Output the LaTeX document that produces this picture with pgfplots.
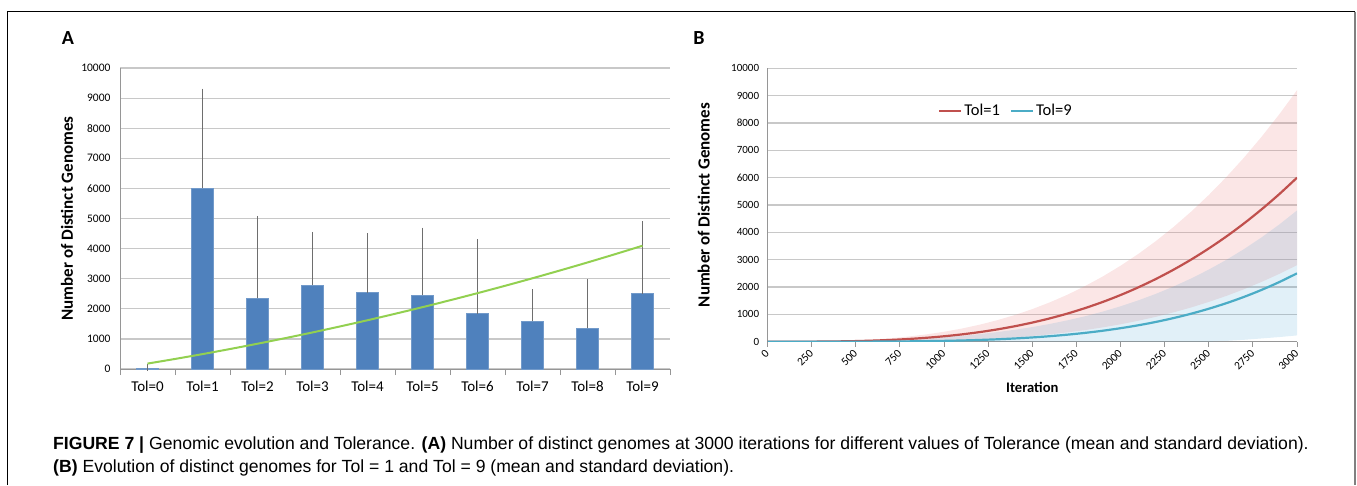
\documentclass[border=0pt]{standalone}
\usepackage{fontspec}
\setmainfont{Carlito}
\newfontfamily\capfont{Liberation Sans}
\usepackage{pgfplots}
\usepackage{pgfplotstable}
\pgfplotsset{compat=1.18}
\definecolor{barblue}{RGB}{79,129,189}
\definecolor{lred}{RGB}{192,80,77}
\definecolor{lblue}{RGB}{75,172,198}
\definecolor{tgreen}{RGB}{146,208,80}
\definecolor{gridgray}{RGB}{200,200,200}
\definecolor{axgray}{RGB}{150,150,150}
\definecolor{errgray}{RGB}{110,110,110}

\pgfplotstableread{
x    r     b
0    0     0
100  0.2   0
200  1.4   0.05
300  4.8   0.25
400  11.6  0.8
500  23    1.9
600  41    4
700  66    7.4
800  100   12.6
900  144   20
1000 199   31
1100 267   45
1200 350   64
1300 449   88
1400 565   119
1500 700   156
1600 855   202
1700 1031  258
1800 1232  324
1900 1456  402
2000 1707  494
2100 1986  600
2200 2294  723
2300 2633  864
2400 3004  1024
2500 3410  1206
2600 3850  1410
2700 4328  1640
2800 4845  1897
2900 5401  2183
3000 6000  2500
}\evol

\begin{document}
\begin{tikzpicture}
\useasboundingbox (0pt,0pt) rectangle (1357pt,-485pt);
\draw[black, line width=1pt] (7pt,-485pt) -- (7pt,-11.5pt) -- (1355pt,-11.5pt);
\draw[gray, line width=1.6pt] (1355pt,-11.5pt) -- (1355pt,-485pt);

\node[font=\bfseries\fontsize{20}{24}\selectfont] at (68pt,-38pt) {A};
\node[font=\bfseries\fontsize{20}{24}\selectfont] at (699pt,-38pt) {B};

% ---------------- Panel A ----------------
\begin{axis}[
  at={(120pt,-369pt)}, anchor=south west,
  scale only axis, width=550pt, height=301pt,
  xmin=-0.5, xmax=9.5, ymin=0, ymax=10000,
  axis x line*=bottom, axis y line*=left,
  axis line style={draw=axgray, line width=1pt, -},
  ymajorgrids, grid style={gridgray, line width=1.2pt},
  ytick={0,1000,...,10000},
  scaled y ticks=false,
  ytick style={draw=none},
  xtick={-0.5,0.5,...,9.5},
  x tick label as interval,
  xticklabels={{Tol=0},{Tol=1},{Tol=2},{Tol=3},{Tol=4},{Tol=5},{Tol=6},{Tol=7},{Tol=8},{Tol=9}},
  tick align=outside, major tick length=6pt,
  xtick style={draw=axgray, line width=1pt},
  x tick label style={font=\fontsize{15}{18}\selectfont, yshift=-3pt},
  y tick label style={font=\fontsize{11.5}{13}\selectfont},
  /pgf/number format/assume math mode=true,
  /pgf/number format/set thousands separator={},
  every axis y label/.style={at={(axis description cs:0,0.5)}, xshift=-53pt, rotate=90, anchor=center},
  ylabel={\bfseries\fontsize{17}{20}\selectfont Number of Distinct Genomes},
  clip=false,
]
\addplot[ybar, bar width=0.4, fill=barblue, draw=barblue!80!white, line width=0.5pt,
  error bars/.cd, y dir=plus, y explicit,
  error bar style={errgray, line width=1pt},
  error mark=-,
  error mark options={errgray, line width=1.2pt, mark size=3.5pt}]
  coordinates {
  (0,30) +- (0,15)
  (1,6000) +- (0,3200)
  (2,2350) +- (0,2620)
  (3,2780) +- (0,1660)
  (4,2540) +- (0,1860)
  (5,2450) +- (0,2130)
  (6,1840) +- (0,2350)
  (7,1585) +- (0,955)
  (8,1350) +- (0,1510)
  (9,2505) +- (0,2280)
  };
\addplot[tgreen, line width=2pt, smooth, no marks] coordinates {
  (0,180) (0.5,334) (1,495) (1.5,664) (2,840) (2.5,1024) (3,1215) (3.5,1414)
  (4,1620) (4.5,1834) (5,2055) (5.5,2284) (6,2520) (6.5,2764) (7,3015)
  (7.5,3274) (8,3540) (8.5,3814) (9,4095)
  };
\end{axis}

% ---------------- Panel B ----------------
\begin{axis}[
  at={(767.6pt,-341.7pt)}, anchor=south west,
  scale only axis, width=529.4pt, height=273.4pt,
  xmin=0, xmax=3000, ymin=0, ymax=10000,
  axis x line*=bottom, axis y line*=left,
  axis line style={draw=axgray, line width=1pt, -},
  ymajorgrids, grid style={gridgray, line width=1.2pt},
  ytick={0,1000,...,10000},
  scaled y ticks=false, scaled x ticks=false,
  ytick style={draw=none},
  xtick={0,250,...,3000},
  tick align=outside, major tick length=5pt,
  xtick style={draw=axgray, line width=1pt},
  x tick label style={font=\fontsize{11.5}{13}\selectfont, rotate=45, anchor=east, yshift=-3pt},
  y tick label style={font=\fontsize{11}{13}\selectfont},
  /pgf/number format/assume math mode=true,
  /pgf/number format/set thousands separator={},
  every axis y label/.style={at={(axis description cs:0,0.5)}, xshift=-64pt, rotate=90, anchor=center},
  ylabel={\bfseries\fontsize{17}{20}\selectfont Number of Distinct Genomes},
  every axis x label/.style={at={(axis description cs:0.5,0)}, yshift=-46pt, anchor=center},
  xlabel={\bfseries\fontsize{14.6}{17}\selectfont Iteration},
  legend style={at={(0.316,0.844)}, anchor=west, draw=none, fill=none,
    font=\fontsize{16.5}{19}\selectfont},
  legend columns=2,
  /tikz/every even column/.append style={column sep=8pt},
  legend image code/.code={\draw[#1, line width=2.2pt] (0pt,0pt) -- (22pt,0pt);},
]
% Tol=1 band (mean +/- sd): upper edge, then lower edge back
\addplot[fill={rgb,255:red,236;green,140;blue,140}, fill opacity=0.22, draw=none, forget plot] coordinates {
  (0,0) (100,0.5) (200,3.5) (300,11) (400,26) (500,48) (600,82) (700,129) (800,190)
  (900,268) (1000,364) (1100,480) (1200,620) (1300,784) (1400,974) (1500,1192)
  (1600,1441) (1700,1721) (1800,2038) (1900,2388) (2000,2778) (2100,3207)
  (2200,3679) (2300,4195) (2400,4756) (2500,5366) (2600,6025) (2700,6736)
  (2800,7501) (2900,8321) (3000,9200)
  (3000,2800) (2900,2481) (2800,2189) (2700,1920) (2600,1675) (2500,1454)
  (2400,1252) (2300,1071) (2200,909) (2100,765) (2000,636) (1900,524) (1800,426)
  (1700,341) (1600,269) (1500,208) (1400,156) (1300,114) (1200,80) (1100,54)
  (1000,34) (900,20) (800,10) (700,3) (600,0) (0,0)
  };
% Tol=9 band
\addplot[fill={rgb,255:red,70;green,160;blue,210}, fill opacity=0.16, draw=none, forget plot] coordinates {
  (0,0) (100,0.3) (200,2) (300,6) (400,13) (500,24) (600,39) (700,59) (800,87)
  (900,120) (1000,163) (1100,214) (1200,276) (1300,350) (1400,436) (1500,535)
  (1600,651) (1700,783) (1800,933) (1900,1103) (2000,1295) (2100,1510)
  (2200,1750) (2300,2017) (2400,2312) (2500,2638) (2600,2995) (2700,3389)
  (2800,3819) (2900,4289) (3000,4800)
  (3000,230) (2900,170) (2800,120) (2700,70) (2600,30) (2500,0) (0,0)
  };
\addplot[lred, line width=2.2pt, smooth, no marks] table[x=x,y=r]{\evol};
\addlegendentry{Tol=1}
\addplot[lblue, line width=2.2pt, smooth, no marks] table[x=x,y=b]{\evol};
\addlegendentry{Tol=9}
\end{axis}

% ---------------- Caption ----------------
\node[anchor=base west, inner sep=0pt, font=\capfont\fontsize{17.6}{20}\selectfont] at (53pt,-449pt)
  {\textbf{FIGURE 7 |} Genomic evolution and Tolerance. \textbf{(A)} Number of distinct genomes at 3000 iterations for different values of Tolerance (mean and standard deviation).};
\node[anchor=base west, inner sep=0pt, font=\capfont\fontsize{17.6}{20}\selectfont] at (53pt,-472pt)
  {\textbf{(B)} Evolution of distinct genomes for Tol = 1 and Tol = 9 (mean and standard deviation).};
\end{tikzpicture}
\end{document}
